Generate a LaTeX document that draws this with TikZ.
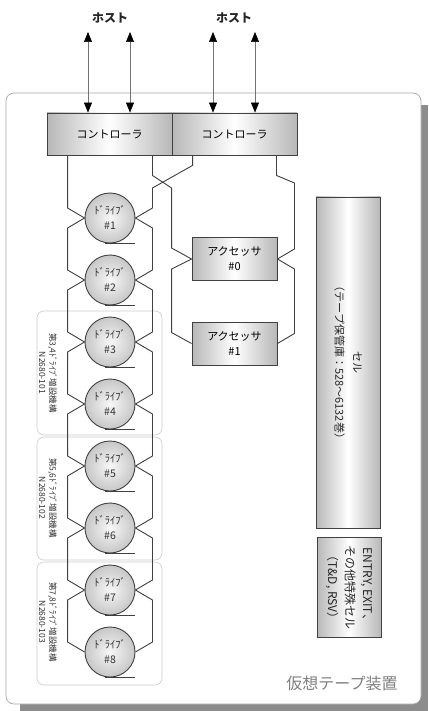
\documentclass[tikz,border=0pt]{standalone}
\usepackage{fontspec}
\setmainfont{Noto Sans CJK JP}
\usetikzlibrary{arrows.meta}
\newcommand\myfs[2]{\fontsize{#1}{#2}\selectfont}
\begin{document}
\begin{tikzpicture}[x=1pt,y=-1pt,
  wire/.style={draw=black!75, line width=0.9pt},
  hostarrow/.style={draw=black!55, line width=0.6pt,
     {Triangle[width=8pt,length=10pt,color=black]}-{Triangle[width=8pt,length=10pt,color=black]}},
  shadebox/.style={draw=black!75, line width=0.9pt, left color=black!28, right color=black!28, middle color=white, inner sep=0pt},
  ctrl/.style={shadebox, minimum width=125pt, minimum height=42pt, font=\myfs{11}{14}},
  acc/.style={shadebox, minimum width=85pt, minimum height=43pt, align=center, font=\myfs{11}{15}},
  cellbox/.style={shadebox, minimum width=64pt},
  drive/.style={circle, draw=black!75, line width=0.9pt, minimum size=50pt, inner sep=0pt,
     inner color=black!3, outer color=black!22, align=center, font=\myfs{10.5}{15}, text=black!80},
  grp/.style={draw=black!20, line width=0.6pt, rounded corners=7pt},
  grplbl/.style={rotate=-90, align=center, font=\myfs{8.5}{10.5}, text=black!80},
  hostlbl/.style={font=\myfs{12}{14}\bfseries, text=black!85}
]
\path[use as bounding box] (0,0) rectangle (428,711);
% shadow and frame
\fill[black!45] (20,105) rectangle (428,711);
\draw[draw=black!35, fill=white, line width=0.7pt, rounded corners=8pt] (6,93) rectangle (421,704);

% hosts
\node[hostlbl] (h1) at (110,18) {ホスト};
\node[hostlbl] (h2) at (234,18) {ホスト};

% controllers
\node[ctrl] (c1) at (109.5,134) {コントローラ};
\node[ctrl] (c2) at (234.5,134) {コントローラ};

\coordinate (t1) at (88,32);
\coordinate (t2) at (130,32);
\coordinate (t3) at (213,32);
\coordinate (t4) at (255,32);
\foreach \t/\c in {t1/c1,t2/c1,t3/c2,t4/c2}
  \draw[hostarrow] (\t) -- (\t |- \c.north);

% group boxes
\draw[grp] (37,311) rectangle (162,435);
\draw[grp] (37,437) rectangle (162,560);
\draw[grp] (37,562) rectangle (162,685);
\node[grplbl] (g1) at (48,373) {第3,4ﾄﾞﾗｲﾌﾞ増設機構\\N2680-101};
\node[grplbl] (g2) at (48,498) {第5,6ﾄﾞﾗｲﾌﾞ増設機構\\N2680-102};
\node[grplbl] (g3) at (48,622) {第7,8ﾄﾞﾗｲﾌﾞ増設機構\\N2680-103};

% drives
\foreach \i in {1,...,8}{
  \pgfmathsetmacro\cy{218+62*(\i-1)}
  \node[drive] (d\i) at (110,\cy) {ﾄﾞﾗｲﾌﾞ\\\#\i};
  \draw[wire] ([xshift=-5pt]d\i.south) -- ([xshift=25pt]d\i.south);
}

% accessors
\node[acc] (a0) at (234.5,259) {アクセッサ\\\#0};
\node[acc] (a1) at (234.5,343.5) {アクセッサ\\\#1};

% cell boxes
\node[cellbox, minimum height=331pt] (cell) at (348,362.5) {};
\node[rotate=-90, align=center, font=\myfs{11}{18}, text=black!85] (celltxt) at (cell.center) {セル\\（テープ保管庫：528～6132巻）};
\node[cellbox, minimum height=100pt] (entry) at (349,587) {};
\node[rotate=-90, align=center, font=\myfs{12}{17.5}, text=black!85] (entrytxt) at (entry.center) {ENTRY, EXIT、\\その他特殊セル\\（T\&D, RSV）};

% label
\node[font=\myfs{16}{18}, text=black!50] (vtl) at (342,683) {仮想テープ装置};

% wiring: controller 1 left -> drive chain (left)
\draw[wire] ([xshift=21pt]c1.south west) -- ([shift={(-17,-10)}]d1.west) -- (d1.west);
\foreach \i [evaluate=\i as \j using int(\i+1)] in {1,...,7}{
  \draw[wire] (d\i.west) -- ++(-17,10) -- ([shift={(-17,-10)}]d\j.west) -- (d\j.west);
  \draw[wire] (d\i.east) -- ++(17,10) -- ([shift={(17,-10)}]d\j.east) -- (d\j.east);
}
% controller 2 left -> drive chain (right)
\draw[wire] ([xshift=21pt]c2.south west) -- ++(0,10) -- ([shift={(17,-30)}]d1.east) -- ([shift={(17,-10)}]d1.east) -- (d1.east);
% controller 1 right -> accessors (left)
\draw[wire] ([xshift=-20pt]c1.south east) -- ++(0,20) -- ([shift={(-20,-71)}]a0.west) -- ([shift={(-20,-11)}]a0.west) -- (a0.west);
\draw[wire] (a0.west) -- ++(-20,10) -- ([shift={(-20,-11)}]a1.west) -- (a1.west);
% controller 2 right -> accessors (right)
\draw[wire] ([xshift=-21pt]c2.south east) -- ++(0,20) -- ([shift={(17,-76)}]a0.east) -- ([shift={(17,-10)}]a0.east) -- (a0.east);
\draw[wire] (a0.east) -- ++(17,10) -- ([shift={(17,-10)}]a1.east) -- (a1.east);
\end{tikzpicture}
\end{document}
